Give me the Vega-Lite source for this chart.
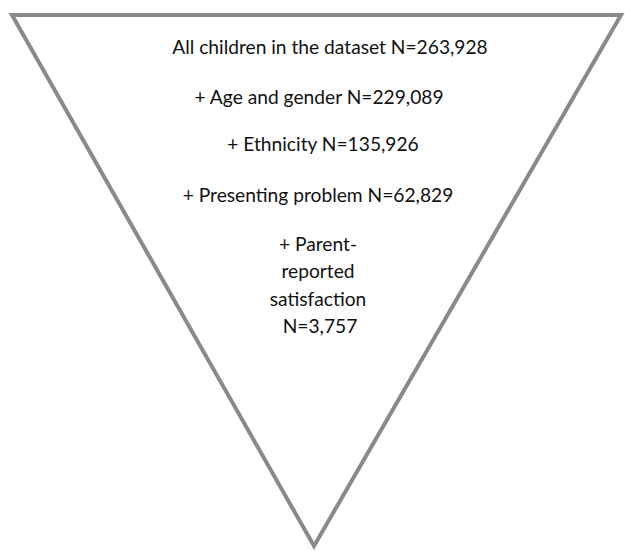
{
  "$schema": "https://vega.github.io/schema/vega-lite/v6.json",
  "width": 625,
  "height": 551,
  "autosize": {"type": "none"},
  "padding": 0,
  "background": "white",
  "config": {"view": {"stroke": null}},
  "layer": [
    {
      "data": {"values": [
        {"i": 1, "x": 316, "y": 15},
        {"i": 2, "x": 621, "y": 15},
        {"i": 3, "x": 314, "y": 546},
        {"i": 4, "x": 12, "y": 15},
        {"i": 5, "x": 316, "y": 15}
      ]},
      "mark": {"type": "line", "stroke": "#8a8a8a", "strokeWidth": 4, "strokeJoin": "miter"},
      "encoding": {
        "x": {"field": "x", "type": "quantitative", "scale": {"domain": [0, 625], "nice": false, "zero": false}, "axis": null},
        "y": {"field": "y", "type": "quantitative", "scale": {"domain": [0, 551], "nice": false, "zero": false, "reverse": true}, "axis": null},
        "order": {"field": "i", "type": "quantitative"}
      }
    },
    {
      "data": {"values": [
        {"label": "All children in the dataset N=263,928", "x": 330, "y": 54},
        {"label": "+ Age and gender N=229,089", "x": 319, "y": 104},
        {"label": "+ Ethnicity N=135,926", "x": 323, "y": 151},
        {"label": "+ Presenting problem N=62,829", "x": 318, "y": 202},
        {"label": "+ Parent-", "x": 318, "y": 251},
        {"label": "reported", "x": 318, "y": 278},
        {"label": "satisfaction", "x": 318, "y": 306},
        {"label": "N=3,757", "x": 320, "y": 333}
      ]},
      "mark": {"type": "text", "font": "Lato", "fontSize": 19.2, "baseline": "alphabetic", "align": "center", "color": "#111111"},
      "encoding": {
        "x": {"field": "x", "type": "quantitative", "scale": {"domain": [0, 625], "nice": false, "zero": false}, "axis": null},
        "y": {"field": "y", "type": "quantitative", "scale": {"domain": [0, 551], "nice": false, "zero": false, "reverse": true}, "axis": null},
        "text": {"field": "label", "type": "nominal"}
      }
    }
  ]
}
